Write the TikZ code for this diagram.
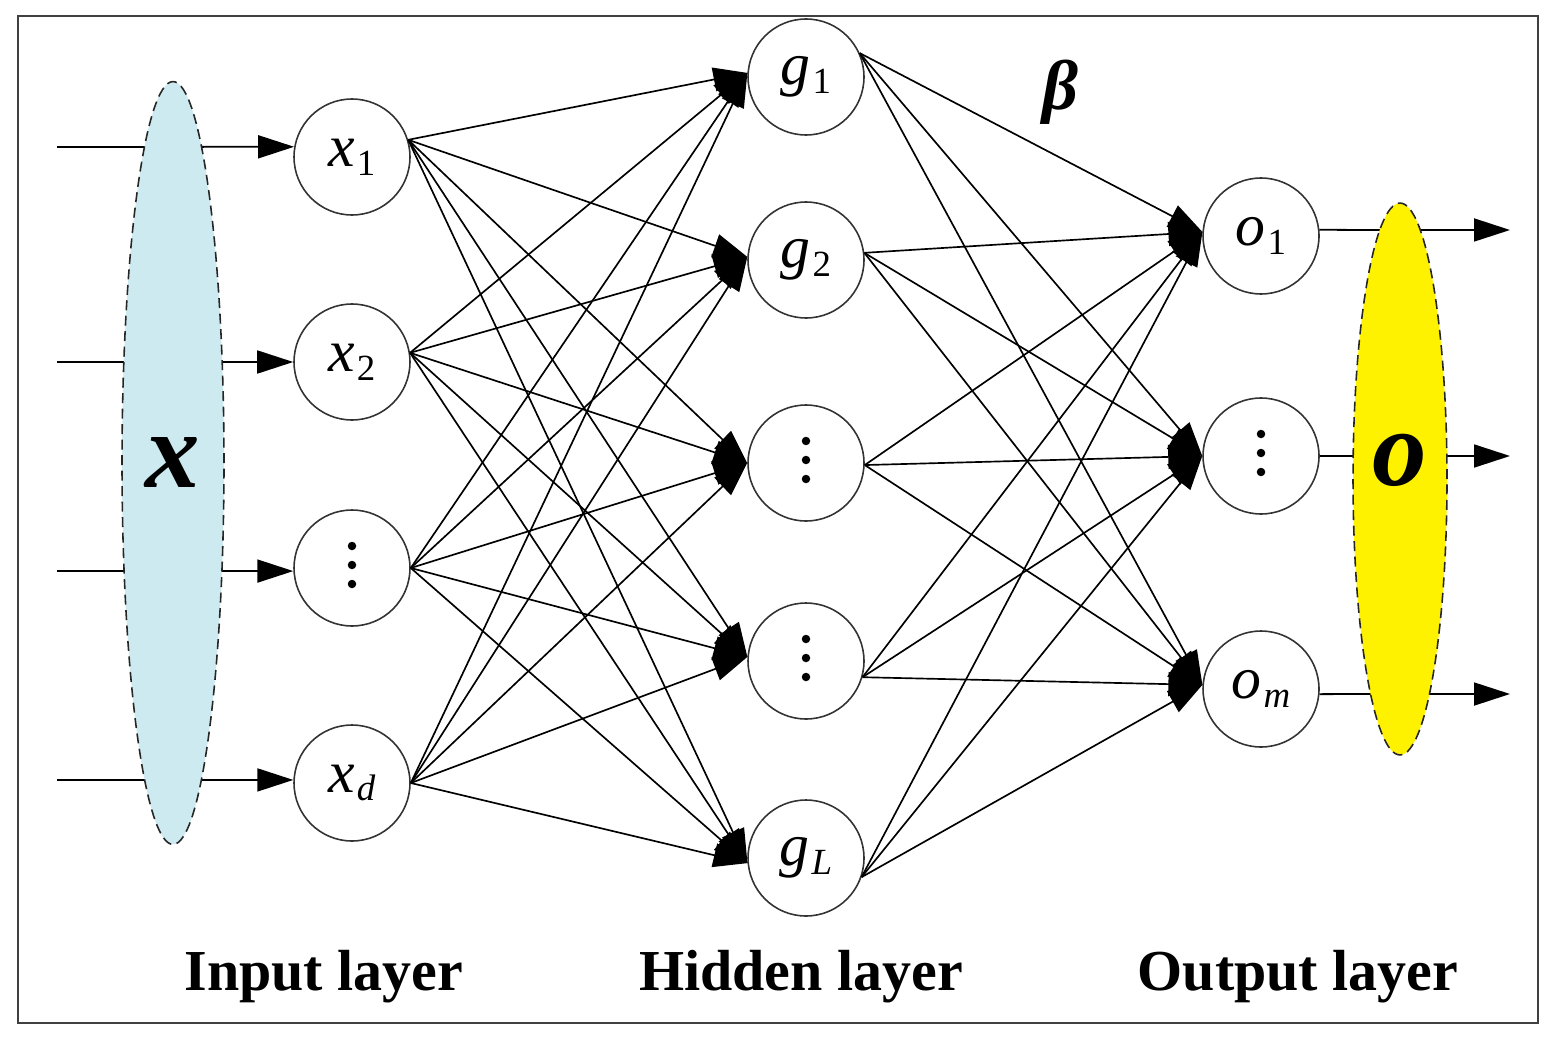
\documentclass[tikz,border=0pt]{standalone}
\usepackage{fontspec}
\setmainfont{Liberation Serif}
\usetikzlibrary{arrows.meta,shapes.geometric,calc}
\newcommand{\lbl}[2]{\textit{#1}\kern1pt\raisebox{-5pt}{\fontsize{21}{21}\selectfont #2}}
\definecolor{ltblue}{HTML}{CCEAF0}
\definecolor{frame}{HTML}{404040}
\tikzset{
  neuron/.style={circle, draw=black!80, line width=0.9pt, fill=white, minimum size=2.32cm, inner sep=0pt,
                 font=\fontsize{34}{36}\selectfont},
  arr/.style={line width=1pt, -{Triangle[length=0.72cm,width=0.46cm]}},
  wire/.style={line width=0.95pt, -{Triangle[length=0.68cm,width=0.48cm]}},
  blob/.style={ellipse, draw=black!85, dashed, dash pattern=on 0.2cm off 0.11cm, line width=0.9pt, inner sep=0pt},
  bigletter/.style={font=\fontsize{62}{62}\selectfont\bfseries\itshape},
  layer/.style={anchor=base, font=\fontsize{33}{36}\selectfont\bfseries},
  dotmark/.style={fill=black}
}
\begin{document}
\begin{tikzpicture}[x=0.02cm, y=-0.02cm]
\useasboundingbox (0,0) rectangle (1547,1044);
\draw[frame, line width=1.3pt] (18,16) rectangle (1538,1023);

% input layer nodes
\node[neuron] (x1) at (352,157) {\lbl{x}{1}};
\node[neuron] (x2) at (352,362) {\lbl{x}{2}};
\node[neuron] (x3) at (352,568) {};
\node[neuron] (xd) at (352,783) {\lbl{x}{\textit{d}}};

% hidden layer nodes
\node[neuron] (g1) at (806,77) {\lbl{g}{1}};
\node[neuron] (g2) at (806,260) {\lbl{g}{2}};
\node[neuron] (h3) at (806,463) {};
\node[neuron] (h4) at (806,661) {};
\node[neuron] (gL) at (806,858) {\lbl{g}{\textit{L}}};

% output layer nodes
\node[neuron] (o1) at (1261,236) {\lbl{o}{1}};
\node[neuron] (o2) at (1261,456) {};
\node[neuron] (om) at (1261,689) {\lbl{o}{\textit{m}}};

% vertical dots
\foreach \n in {x3,h3,h4,o2}
  \foreach \d in {-22,-3,16}
    \fill[dotmark] ($(\n)+(0,\d)$) circle[radius=0.085cm];

% input arrows (behind the ellipse)
\coordinate (i1) at (57,147);
\coordinate (i2) at (57,362);
\coordinate (i3) at (57,571);
\coordinate (i4) at (57,780);
\draw[arr] (i1) -- (x1.170);
\draw[arr] (i2) -- (x2.180);
\draw[arr] (i3) -- (x3.183);
\draw[arr] (i4) -- (xd.177);
\node[blob, fill=ltblue, minimum width=2.04cm, minimum height=15.26cm] (X) at (173,463) {};
\node[bigletter] (Xl) at (173,462) {x};

% output arrows (behind the ellipse)
\coordinate (e1) at (1510,230);
\coordinate (e2) at (1510,456);
\coordinate (e3) at (1510,694);
\draw[arr] (o1.6) -- (e1);
\draw[arr] (o2.0) -- (e2);
\draw[arr] (om.-5) -- (e3);
\node[blob, fill=yellow, minimum width=1.88cm, minimum height=11.04cm] (O) at (1400,479) {};
\node[bigletter] (Ol) at (1400,460) {o};

% input -> hidden
\foreach \s/\a in {x1/17, x2/9, x3/0, xd/0}
  \foreach \t/\b in {g1/176, g2/177, h3/180, h4/176, gL/185}
    \draw[wire] (\s.\a) -- (\t.\b);

% hidden -> output
\foreach \s/\a in {g1/24, g2/7, h3/-2, h4/-16, gL/-19}
  \foreach \t/\b in {o1/176, o2/180, om/176}
    \draw[wire] (\s.\a) -- (\t.\b);

% beta
\node[font=\fontsize{40}{40}\selectfont\bfseries\itshape] (beta) at (1060,92) {β};

% layer labels
\node[layer] (lin) at (324,990) {Input layer};
\node[layer] (lhid) at (801,990) {Hidden layer};
\node[layer] (lout) at (1298,990) {Output layer};
\end{tikzpicture}
\end{document}
